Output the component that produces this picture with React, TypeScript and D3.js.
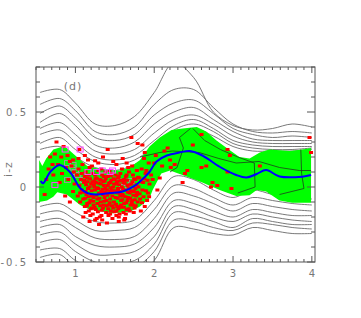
import React from 'react';
import * as d3 from 'd3';

type Pt = [number, number];

// shared x positions for the gray contour lines
const xGrid = [0.55, 0.8, 1.0, 1.25, 1.5, 1.75, 2.0, 2.25, 2.5, 2.75, 3.0, 3.25, 3.5, 3.75, 4.0];

const upperContours = [
  [0.63, 0.65, 0.56, 0.42, 0.41, 0.47, 0.63, 0.83, 0.73, 0.5, 0.41, 0.38, 0.39, 0.42, 0.4],
  [0.55, 0.59, 0.51, 0.37, 0.35, 0.4, 0.55, 0.65, 0.65, 0.53, 0.42, 0.37, 0.36, 0.37, 0.36],
  [0.49, 0.54, 0.46, 0.33, 0.31, 0.35, 0.48, 0.56, 0.58, 0.49, 0.39, 0.35, 0.33, 0.34, 0.33],
  [0.43, 0.49, 0.41, 0.28, 0.26, 0.3, 0.42, 0.5, 0.53, 0.45, 0.37, 0.32, 0.31, 0.31, 0.31],
  [0.39, 0.43, 0.35, 0.24, 0.22, 0.25, 0.36, 0.45, 0.48, 0.42, 0.34, 0.3, 0.29, 0.29, 0.29],
  [0.35, 0.38, 0.3, 0.2, 0.18, 0.21, 0.31, 0.41, 0.45, 0.39, 0.31, 0.28, 0.27, 0.27, 0.27],
  [0.29, 0.33, 0.25, 0.17, 0.15, 0.18, 0.27, 0.38, 0.42, 0.37, 0.29, 0.26, 0.25, 0.25, 0.26],
  [0.25, 0.27, 0.2, 0.13, 0.11, 0.15, 0.23, 0.35, 0.39, 0.34, 0.27, 0.24, 0.24, 0.24, 0.25],
];

const lowerContours = [
  [-0.13, -0.11, -0.17, -0.23, -0.24, -0.22, -0.09, 0.07, 0.05, -0.02, -0.07, -0.02, -0.05, -0.07, -0.08],
  [-0.18, -0.16, -0.22, -0.29, -0.29, -0.27, -0.15, 0.01, -0.01, -0.07, -0.12, -0.07, -0.09, -0.11, -0.12],
  [-0.23, -0.21, -0.27, -0.34, -0.35, -0.33, -0.21, -0.04, -0.06, -0.11, -0.16, -0.11, -0.13, -0.15, -0.16],
  [-0.27, -0.25, -0.33, -0.39, -0.4, -0.38, -0.27, -0.09, -0.11, -0.16, -0.2, -0.15, -0.17, -0.19, -0.19],
  [-0.32, -0.3, -0.38, -0.45, -0.45, -0.43, -0.33, -0.13, -0.15, -0.2, -0.23, -0.18, -0.2, -0.22, -0.23],
  [-0.37, -0.35, -0.43, -0.5, -0.51, -0.49, -0.38, -0.17, -0.19, -0.23, -0.27, -0.21, -0.23, -0.25, -0.25],
  [-0.42, -0.41, -0.49, -0.55, -0.56, -0.54, -0.43, -0.22, -0.23, -0.27, -0.29, -0.24, -0.25, -0.27, -0.28],
  [-0.47, -0.45, -0.54, -0.61, -0.61, -0.59, -0.49, -0.27, -0.28, -0.31, -0.32, -0.27, -0.29, -0.31, -0.31],
];

const bandUpper: Pt[] = [
  [0.54, 0.18], [0.58, 0.14], [0.63, 0.19], [0.72, 0.25], [0.84, 0.27], [0.89, 0.26], [1.02, 0.2],
  [1.15, 0.14], [1.31, 0.12], [1.56, 0.11], [1.69, 0.13], [1.82, 0.18], [1.94, 0.27], [2.07, 0.33],
  [2.22, 0.38], [2.36, 0.39], [2.54, 0.4], [2.66, 0.37], [2.79, 0.31], [2.92, 0.26], [3.08, 0.2],
  [3.21, 0.19], [3.34, 0.23], [3.46, 0.25], [3.72, 0.24], [3.88, 0.25], [3.99, 0.26],
];

const bandLower: Pt[] = [
  [0.54, -0.1], [0.64, -0.09], [0.72, -0.065], [0.77, -0.035], [0.89, -0.05], [1.06, -0.12],
  [1.18, -0.15], [1.31, -0.16], [1.47, -0.175], [1.69, -0.165], [1.82, -0.13], [1.94, -0.075],
  [1.98, -0.02], [2.09, 0.09], [2.2, 0.11], [2.41, 0.07], [2.61, 0.03], [2.83, -0.02], [3.04, -0.06],
  [3.21, -0.055], [3.3, -0.02], [3.42, -0.03], [3.59, -0.09], [3.75, -0.105], [3.99, -0.105],
];

const medianLine: Pt[] = [
  [0.56, 0.04], [0.59, 0.025], [0.68, 0.1], [0.8, 0.147], [0.93, 0.1], [1.06, -0.007], [1.15, -0.04],
  [1.25, -0.05], [1.44, -0.04], [1.6, -0.03], [1.75, 0.007], [1.88, 0.067], [1.94, 0.1], [2.03, 0.17],
  [2.16, 0.21], [2.32, 0.23], [2.45, 0.24], [2.61, 0.21], [2.83, 0.135], [3.04, 0.08], [3.17, 0.063],
  [3.3, 0.087], [3.42, 0.113], [3.59, 0.07], [3.88, 0.069], [3.99, 0.08],
];

const cellLines: Pt[][] = [
  [[1.82, 0.2], [2.07, 0.23], [2.23, 0.24], [2.57, 0.23], [2.82, 0.19], [3.04, 0.16], [3.33, 0.17], [3.59, 0.13], [3.84, 0.11], [3.99, 0.11]],
  [[2.46, 0.39], [2.32, 0.33], [2.37, 0.26], [2.29, 0.13], [2.2, 0.1]],
  [[2.49, 0.39], [2.64, 0.31], [2.84, 0.25], [3.06, 0.2], [3.27, 0.16], [3.28, 0.0], [3.06, -0.04]],
  [[3.86, 0.25], [3.87, 0.09], [3.9, -0.01], [3.59, -0.05]],
];

const redPoints: Pt[] = [
  // sparse, blue side
  [0.61, -0.05], [0.63, 0.05], [0.66, 0.12], [0.68, 0.2], [0.71, 0.15], [0.72, 0.08], [0.74, 0.22], [0.76, 0.3],
  [0.78, 0.15], [0.8, 0.03], [0.82, 0.2], [0.83, 0.09], [0.85, 0.27], [0.88, 0.13], [0.9, 0.21], [0.91, 0.05],
  [0.93, 0.17], [0.95, 0.14], [0.97, 0.18], [0.98, 0.1], [0.99, 0.02], [0.97, -0.03], [0.87, -0.06], [0.93, -0.1],
  // main cluster
  [1.02, 0.08], [1.03, -0.06], [1.04, 0.12], [1.05, 0.01], [1.06, -0.1], [1.07, 0.05], [1.08, -0.02], [1.09, 0.15],
  [1.1, -0.08], [1.04, 0.19], [1.08, 0.09], [1.06, -0.04],
  [1.11, 0.03], [1.12, -0.13], [1.13, 0.1], [1.14, -0.05], [1.15, 0.06], [1.16, -0.01], [1.17, -0.16], [1.18, 0.13],
  [1.19, -0.09], [1.2, 0.02], [1.12, 0.07], [1.15, -0.11], [1.18, 0.0], [1.13, -0.03], [1.17, 0.08], [1.19, -0.19],
  [1.21, -0.06], [1.22, 0.09], [1.23, -0.12], [1.24, 0.04], [1.25, -0.02], [1.26, -0.15], [1.27, 0.06], [1.28, -0.08],
  [1.29, 0.11], [1.3, -0.04], [1.22, -0.18], [1.24, 0.0], [1.26, 0.03], [1.28, -0.11], [1.21, 0.14], [1.27, -0.21],
  [1.29, -0.01], [1.23, -0.07],
  [1.31, 0.05], [1.32, -0.1], [1.33, -0.03], [1.34, 0.08], [1.35, -0.14], [1.36, 0.01], [1.37, -0.07], [1.38, 0.1],
  [1.39, -0.17], [1.4, -0.02], [1.31, -0.2], [1.33, 0.12], [1.35, -0.05], [1.37, 0.04], [1.39, -0.09], [1.32, 0.02],
  [1.36, -0.12], [1.38, -0.01], [1.34, -0.22],
  [1.41, 0.07], [1.42, -0.12], [1.43, -0.04], [1.44, 0.03], [1.45, -0.16], [1.46, 0.09], [1.47, -0.06], [1.48, 0.0],
  [1.49, -0.1], [1.5, 0.05], [1.42, -0.19], [1.44, -0.08], [1.46, -0.02], [1.48, -0.14], [1.41, 0.01], [1.43, 0.11],
  [1.47, -0.21], [1.49, 0.02], [1.45, -0.03],
  [1.51, -0.07], [1.52, 0.02], [1.53, -0.13], [1.54, 0.06], [1.55, -0.03], [1.56, -0.18], [1.57, 0.09], [1.58, -0.09],
  [1.59, 0.0], [1.6, -0.05], [1.52, -0.16], [1.54, -0.01], [1.56, 0.04], [1.58, -0.12], [1.51, 0.08], [1.55, -0.2],
  [1.57, -0.06], [1.59, 0.12], [1.53, -0.04],
  [1.61, 0.03], [1.62, -0.11], [1.63, -0.02], [1.64, 0.07], [1.65, -0.15], [1.66, 0.01], [1.67, -0.07], [1.68, 0.1],
  [1.69, -0.04], [1.7, -0.12], [1.62, 0.05], [1.64, -0.18], [1.66, -0.09], [1.68, -0.01], [1.61, -0.06], [1.67, 0.13],
  [1.63, -0.21],
  [1.71, 0.02], [1.72, -0.09], [1.73, 0.08], [1.74, -0.03], [1.75, -0.14], [1.76, 0.05], [1.77, -0.06], [1.78, 0.11],
  [1.79, -0.1], [1.8, 0.0], [1.72, 0.14], [1.74, -0.17], [1.76, -0.01], [1.78, -0.05], [1.73, -0.12],
  [1.81, 0.06], [1.82, -0.08], [1.84, 0.12], [1.85, -0.02], [1.86, 0.03], [1.88, -0.13], [1.89, 0.09], [1.9, 0.11],
  [1.92, -0.04], [1.93, 0.16], [1.94, 0.02], [1.83, -0.16], [1.87, 0.19], [1.91, -0.09],
  // dense core
  [1.105, -0.035], [1.115, 0.045], [1.125, -0.075], [1.135, 0.015], [1.145, -0.125], [1.155, 0.035], [1.165, -0.065],
  [1.175, -0.105], [1.185, 0.055], [1.195, -0.145], [1.205, -0.025], [1.215, 0.035], [1.225, -0.095], [1.235, 0.015],
  [1.245, -0.135], [1.255, 0.055], [1.265, -0.055], [1.275, -0.005], [1.285, -0.165], [1.295, 0.025],
  [1.305, -0.075], [1.315, -0.125], [1.325, 0.045], [1.335, -0.155], [1.345, -0.015], [1.355, 0.035], [1.365, -0.095],
  [1.375, -0.035], [1.385, 0.055], [1.395, -0.125], [1.405, -0.055], [1.415, -0.145], [1.425, 0.025], [1.435, -0.105],
  [1.445, -0.005], [1.455, 0.045], [1.465, -0.125], [1.475, -0.035], [1.485, 0.055], [1.495, -0.165],
  [1.505, -0.025], [1.515, -0.115], [1.525, 0.035], [1.535, -0.075], [1.545, -0.145], [1.555, 0.015], [1.565, -0.045],
  [1.575, -0.135], [1.585, 0.045], [1.595, -0.085], [1.605, -0.015], [1.615, -0.135], [1.625, 0.025], [1.635, -0.065],
  [1.645, -0.105], [1.655, 0.045], [1.665, -0.035], [1.675, -0.145], [1.685, 0.015], [1.695, -0.075],
  [1.705, -0.025], [1.715, -0.105], [1.725, 0.035], [1.735, -0.055], [1.745, 0.055], [1.755, -0.085], [1.765, -0.125],
  [1.775, 0.015], [1.785, -0.035], [1.795, 0.065], [1.815, -0.045], [1.835, 0.035], [1.845, -0.105], [1.865, -0.065],
  [1.875, 0.055], [1.895, -0.025], [1.915, 0.045], [1.935, -0.065],
  [1.13, -0.17], [1.21, -0.14], [1.33, -0.19], [1.44, -0.18], [1.52, -0.19], [1.61, -0.17], [1.69, -0.16],
  [1.36, 0.07], [1.45, 0.075], [1.55, 0.07], [1.65, 0.08], [1.25, 0.08],
  // red side of the cluster
  [1.96, 0.08], [1.98, 0.05], [2.0, 0.16], [2.02, 0.21], [2.04, -0.02], [2.07, 0.06], [2.1, 0.14], [2.13, 0.24],
  [2.17, 0.26], [2.2, 0.18], [2.21, 0.13], [2.26, 0.15],
  // below and above
  [1.18, -0.23], [1.25, -0.22], [1.4, -0.24], [1.55, -0.23], [1.3, -0.25], [1.62, -0.22], [1.1, -0.2],
  [1.05, 0.25], [1.12, 0.21], [1.16, 0.18], [1.25, 0.175], [1.29, 0.16], [1.35, 0.2], [1.41, 0.25], [1.48, 0.17],
  [1.52, 0.15], [1.6, 0.19], [1.65, 0.16], [1.71, 0.33], [1.79, 0.29], [1.85, 0.28], [1.88, 0.23],
  // high redshift tail
  [2.36, 0.03], [2.39, 0.09], [2.42, 0.11], [2.49, 0.28], [2.6, 0.35], [2.6, 0.13], [2.66, 0.14], [2.72, 0.0],
  [2.74, 0.03], [2.8, 0.01], [2.93, 0.25], [2.96, 0.21], [2.93, 0.1], [2.98, -0.01], [3.34, 0.14], [3.97, 0.33],
  [3.99, 0.23],
];

const magentaPoints: Pt[] = [
  [0.74, 0.013], [0.87, 0.25], [1.06, 0.25], [1.16, 0.1], [1.27, 0.1], [1.34, 0.11], [1.44, 0.1], [1.47, 0.11],
];

const grayPoints: Pt[] = [
  [0.9, 0.16], [0.97, 0.147], [0.97, 0.13], [1.03, 0.08], [1.1, 0.047], [0.9, 0.047], [1.0, 0.1],
  [1.56, 0.036], [1.65, 0.027], [1.71, 0.04], [1.6, 0.0],
];

const xMajor = [1, 2, 3, 4];
const yMajor = [-0.5, 0, 0.5];

const labelFont = "'DejaVu Sans', sans-serif";

export default function App() {
  const x = d3.scaleLinear().domain([0.5, 4.04]).range([36, 315]);
  const y = d3.scaleLinear().domain([-0.5, 0.8]).range([262, 67]);
  const [x0, x1] = x.range();
  const [y0, y1] = y.range();

  const smooth = d3
    .line<Pt>()
    .x(d => x(d[0]))
    .y(d => y(d[1]))
    .curve(d3.curveCatmullRom.alpha(0.5));
  const straight = d3
    .line<Pt>()
    .x(d => x(d[0]))
    .y(d => y(d[1]));
  const closed = d3
    .line<Pt>()
    .x(d => x(d[0]))
    .y(d => y(d[1]))
    .curve(d3.curveLinearClosed);

  const contours = [...upperContours, ...lowerContours].map(row =>
    row.map((v, i) => [xGrid[i], v] as Pt)
  );
  const bandPoly = [...bandUpper, ...bandLower.slice().reverse()];

  const xTicks = d3.range(5, 41).map(i => i / 10);
  const yTicks = d3.range(-5, 9).map(i => i / 10);
  const isMajorX = (t: number) => Math.abs(t - Math.round(t)) < 1e-6;
  const isMajorY = (t: number) => Math.abs(t * 2 - Math.round(t * 2)) < 1e-6;

  return (
    <svg
      width={361}
      height={318}
      style={{ position: 'absolute', left: 0, top: 0, background: '#fff' }}
    >
      <defs>
        <clipPath id="plot">
          <rect x={x0} y={y1} width={x1 - x0} height={y0 - y1} />
        </clipPath>
      </defs>

      <g clipPath="url(#plot)">
        {contours.map((c, i) => (
          <path key={'c' + i} d={smooth(c) || ''} fill="none" stroke="#6a6a6a" strokeWidth={0.9} />
        ))}
        <path d={closed(bandPoly) || ''} fill="#00ff00" stroke="none" />
        {cellLines.map((c, i) => (
          <path key={'k' + i} d={straight(c) || ''} fill="none" stroke="#1f3a1f" strokeWidth={0.8} />
        ))}
        {grayPoints.map((p, i) => (
          <rect key={'g' + i} x={x(p[0]) - 3} y={y(p[1]) - 2.5} width={6} height={5}
            fill="none" stroke="#9a9a9a" strokeWidth={1} />
        ))}
        {redPoints.map((p, i) => (
          <rect key={'r' + i} x={x(p[0]) - 2} y={y(p[1]) - 1.5} width={4} height={3} fill="#ff0000" />
        ))}
        {magentaPoints.map((p, i) => (
          <rect key={'m' + i} x={x(p[0]) - 3} y={y(p[1]) - 2.5} width={6} height={5}
            fill="none" stroke="#ff44ff" strokeWidth={1} />
        ))}
        <path d={smooth(medianLine) || ''} fill="none" stroke="#0000ff" strokeWidth={2} />
      </g>

      {/* frame */}
      <rect x={x0} y={y1} width={x1 - x0} height={y0 - y1} fill="none" stroke="#555" strokeWidth={1} />

      {xTicks.map(t => {
        const len = isMajorX(t) ? 6 : 3;
        return (
          <g key={'xt' + t} stroke="#555" strokeWidth={1}>
            <line x1={x(t)} x2={x(t)} y1={y0} y2={y0 - len} />
            <line x1={x(t)} x2={x(t)} y1={y1} y2={y1 + len} />
          </g>
        );
      })}
      {yTicks.map(t => {
        const len = isMajorY(t) ? 8 : 4;
        return (
          <g key={'yt' + t} stroke="#555" strokeWidth={1}>
            <line x1={x0} x2={x0 + len} y1={y(t)} y2={y(t)} />
            <line x1={x1} x2={x1 - len} y1={y(t)} y2={y(t)} />
          </g>
        );
      })}

      {xMajor.map(t => (
        <text key={'xl' + t} x={x(t)} y={277} textAnchor="middle" fontFamily={labelFont}
          fontSize={10} fill="#777">
          {t}
        </text>
      ))}
      {yMajor.map(t => (
        <text key={'yl' + t} x={28} y={y(t) + 4} textAnchor="end" fontFamily={labelFont}
          fontSize={10} fill="#777" letterSpacing={2}>
          {t === 0 ? '0' : t.toFixed(1)}
        </text>
      ))}

      <text transform="translate(12,169) rotate(-90)" textAnchor="middle" fontFamily={labelFont}
        fontSize={11} fill="#777" letterSpacing={1}>
        i-z
      </text>
      <text x={73} y={90} textAnchor="middle" fontFamily={labelFont} fontSize={11} fill="#777"
        letterSpacing={1}>
        (d)
      </text>
    </svg>
  );
}
